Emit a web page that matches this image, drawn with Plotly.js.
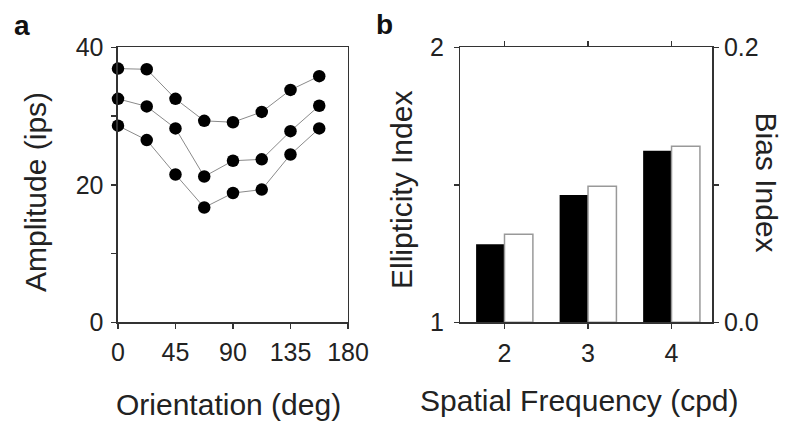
<!DOCTYPE html>
<html>
<head>
<meta charset="utf-8">
<script src="https://cdn.plot.ly/plotly-3.0.1.min.js"></script>
<style>
  html, body { margin: 0; padding: 0; background: #fff; }
  #chart { width: 785px; height: 428px; }
</style>
</head>
<body>
<div id="chart"></div>
<script>
// ---- data ----
const orientation = [0, 22.5, 45, 67.5, 90, 112.5, 135, 157.5];
const ampHigh = [36.9, 36.8, 32.5, 29.3, 29.1, 30.6, 33.8, 35.8];
const ampMid  = [32.5, 31.4, 28.2, 21.2, 23.5, 23.7, 27.8, 31.5];
const ampLow  = [28.6, 26.5, 21.5, 16.7, 18.8, 19.3, 24.4, 28.2];

const spatialFreq = [2, 3, 4];
const ellipticity = [1.284, 1.463, 1.624];
const biasIndex   = [0.064, 0.099, 0.128];

const xTicksA = [0, 45, 90, 135, 180];
const yTicksA = [0, 10, 20, 30, 40];
const yTextA  = ['0', '', '20', '', '40'];
const yTicksB = [1, 1.5, 2];
const yTextB  = ['1', '', '2'];
const yTicksB2 = [0, 0.1, 0.2];
const yTextB2  = ['0.0', '', '0.2'];

// ---- styles ----
const FONT = 'Liberation Sans, Arial, Helvetica, sans-serif';
const AX = '#333';

function lineTrace(y) {
  return {
    x: orientation, y: y, type: 'scatter', mode: 'lines+markers',
    xaxis: 'x', yaxis: 'y', cliponaxis: false,
    line: { color: '#8a8a8a', width: 1 },
    marker: { color: '#000', size: 12.5 },
    hoverinfo: 'skip', showlegend: false
  };
}

const traces = [
  lineTrace(ampHigh), lineTrace(ampMid), lineTrace(ampLow),
  {
    x: spatialFreq, y: ellipticity, type: 'bar', xaxis: 'x2', yaxis: 'y2',
    width: 0.34, offset: -0.34,
    marker: { color: '#000', line: { width: 0 } }, showlegend: false
  },
  {
    x: spatialFreq, y: biasIndex, type: 'bar', xaxis: 'x2', yaxis: 'y3',
    width: 0.34, offset: 0,
    marker: { color: '#fff', line: { color: '#999', width: 1.5 } }, showlegend: false
  }
];

const yDom = [0.247, 0.8895];
const common = {
  showgrid: false, zeroline: false, showline: true,
  linecolor: AX, linewidth: 1.5,
  ticks: 'outside', ticklen: 5, tickwidth: 1.5, tickcolor: AX,
  tickfont: { family: FONT, size: 25, color: '#222' },
  fixedrange: true
};

const layout = {
  width: 785, height: 428,
  margin: { l: 0, r: 0, t: 0, b: 0 },
  paper_bgcolor: '#fff', plot_bgcolor: '#fff',
  font: { family: FONT, color: '#222' },
  barmode: 'overlay',
  xaxis: Object.assign({}, common, {
    domain: [0.1503, 0.4433], range: [0, 180], anchor: 'y',
    tickvals: xTicksA, mirror: true, ticklabelstandoff: 2
  }),
  yaxis: Object.assign({}, common, {
    domain: yDom, range: [0, 40], anchor: 'x',
    tickvals: yTicksA, ticktext: yTextA, mirror: true, ticklabelstandoff: 3
  }),
  xaxis2: Object.assign({}, common, {
    domain: [0.5866, 0.9076], range: [1.473, 4.49], anchor: 'y2',
    tickvals: spatialFreq, mirror: 'ticks', ticklabelstandoff: 3
  }),
  yaxis2: Object.assign({}, common, {
    domain: yDom, range: [1, 2], anchor: 'x2',
    tickvals: yTicksB, ticktext: yTextB, ticklabelstandoff: 5
  }),
  yaxis3: Object.assign({}, common, {
    domain: yDom, range: [0, 0.2], anchor: 'x2', overlaying: 'y2', side: 'right',
    tickvals: yTicksB2, ticktext: yTextB2
  }),
  annotations: [
    { text: '<b>a</b>', xref: 'paper', yref: 'paper', x: 12/785, y: 1 - 25/428,
      xanchor: 'left', yanchor: 'middle', showarrow: false,
      font: { family: FONT, size: 28, color: '#111' } },
    { text: '<b>b</b>', xref: 'paper', yref: 'paper', x: 374/785, y: 1 - 24/428,
      xanchor: 'left', yanchor: 'middle', showarrow: false,
      font: { family: FONT, size: 28, color: '#111' } },
    { text: 'Orientation (deg)', xref: 'paper', yref: 'paper', x: 228.3/785, y: 1 - 404/428,
      xanchor: 'center', yanchor: 'middle', showarrow: false,
      font: { family: FONT, size: 30, color: '#222' } },
    { text: 'Spatial Frequency (cpd)', xref: 'paper', yref: 'paper', x: 579/785, y: 1 - 400/428,
      xanchor: 'center', yanchor: 'middle', showarrow: false,
      font: { family: FONT, size: 30, color: '#222' } },
    { text: 'Amplitude (ips)', xref: 'paper', yref: 'paper', x: 35.5/785, y: 1 - 192.5/428,
      xanchor: 'center', yanchor: 'middle', textangle: -90, showarrow: false,
      font: { family: FONT, size: 30, color: '#222' } },
    { text: 'Ellipticity Index', xref: 'paper', yref: 'paper', x: 401/785, y: 1 - 190/428,
      xanchor: 'center', yanchor: 'middle', textangle: -90, showarrow: false,
      font: { family: FONT, size: 30, color: '#222' } },
    { text: 'Bias Index', xref: 'paper', yref: 'paper', x: 766/785, y: 1 - 182.5/428,
      xanchor: 'center', yanchor: 'middle', textangle: 90, showarrow: false,
      font: { family: FONT, size: 30, color: '#222' } }
  ]
};

Plotly.newPlot('chart', traces, layout, { displayModeBar: false, staticPlot: true });
</script>
</body>
</html>
